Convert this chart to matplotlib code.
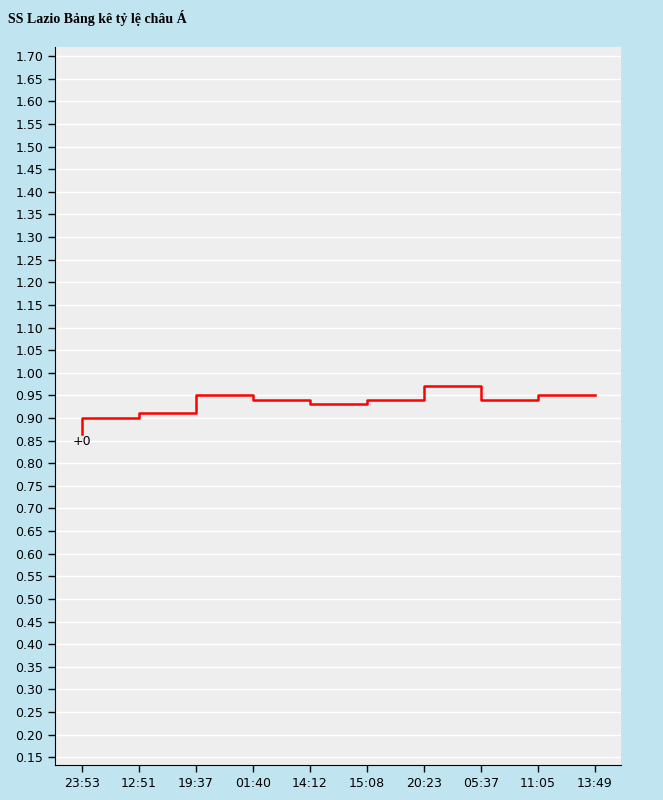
import matplotlib
matplotlib.use("Agg")
import matplotlib.pyplot as plt
import numpy as np

labels = ["23:53","12:51","19:37","01:40","14:12","15:08","20:23","05:37","11:05","13:49"]
start_value = 0.865
values = [0.90,0.91,0.95,0.94,0.93,0.94,0.97,0.94,0.95]

fig = plt.figure(figsize=(6.63,8.0), dpi=100, facecolor="#c0e5f1")
ax = fig.add_axes([55/663, 35/800, 566/663, 718/800])
ax.set_facecolor("#eeeeee")
x = np.arange(len(labels))
ys = [start_value] + values
# step: vertical at each index, horizontal to next
px, py = [x[0]], [start_value]
for i, v in enumerate(values):
    px += [x[i], x[i+1]]
    py += [v, v]
ax.plot(px, py, color="red", lw=1.8)
ax.text(x[0], 0.848, "+0", ha="center", va="center", fontsize=9, family="DejaVu Sans")
ax.set_xlim(-0.47, 9.46)
ax.set_ylim(0.133, 1.72)
yt = np.round(np.arange(0.15, 1.7001, 0.05), 2)
ax.set_yticks(yt)
ax.set_yticklabels([f"{v:.2f}" for v in yt], fontsize=9)
ax.set_xticks(x)
ax.set_xticklabels(labels, fontsize=9)
ax.grid(axis="y", color="white", lw=1)
ax.set_axisbelow(True)
for s in ["top","right"]:
    ax.spines[s].set_visible(False)
ax.tick_params(length=5, width=1)
fig.text(8/663, 1-18/800, "SS Lazio Bảng kê tỷ lệ châu Á", fontsize=10, fontweight="bold",
         family="Liberation Serif", va="center")
fig.savefig("out.png", dpi=100, facecolor=fig.get_facecolor())
